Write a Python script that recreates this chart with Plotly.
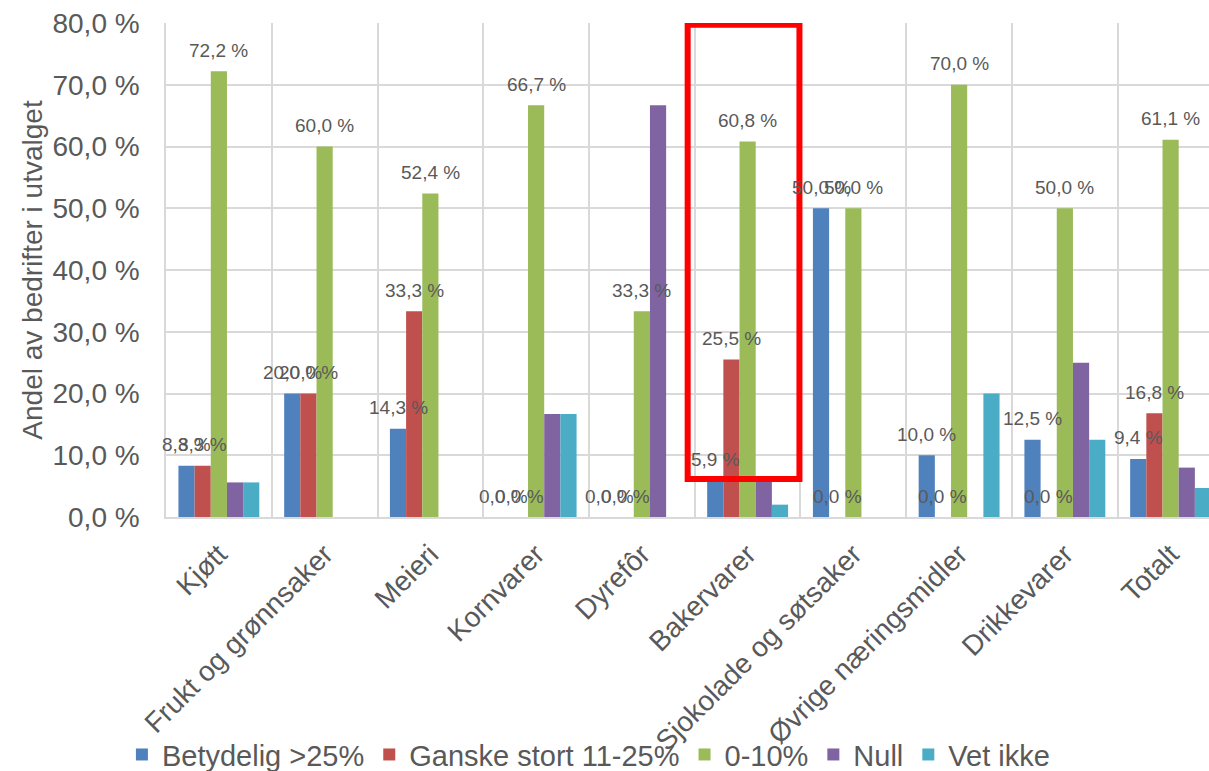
import plotly.graph_objects as go

# Product categories and share of companies per answer group (percent)
categories = ["Kjøtt", "Frukt og grønnsaker", "Meieri", "Kornvarer", "Dyrefôr",
              "Bakervarer", "Sjokolade og søtsaker", "Øvrige næringsmidler",
              "Drikkevarer", "Totalt"]

betydelig = [8.3, 20.0, 14.3, 0.0, 0.0, 5.9, 50.0, 10.0, 12.5, 9.4]
ganske_stort = [8.3, 20.0, 33.3, 0.0, 0.0, 25.5, 0.0, 0.0, 0.0, 16.8]
lav = [72.2, 60.0, 52.4, 66.7, 33.3, 60.8, 50.0, 70.0, 50.0, 61.1]
null = [5.6, 0.0, 0.0, 16.7, 66.7, 5.9, 0.0, 0.0, 25.0, 8.0]
vet_ikke = [5.6, 0.0, 0.0, 16.7, 0.0, 2.0, 0.0, 20.0, 12.5, 4.7]

series_names = ["Betydelig >25%", "Ganske stort 11-25%", "0-10%", "Null", "Vet ikke"]
series_values = [betydelig, ganske_stort, lav, null, vet_ikke]
series_colors = ["#4F81BD", "#C0504D", "#9BBB59", "#8064A2", "#4BACC6"]
labelled_series = 3  # value labels on the first three groups only

FONT = "Liberation Sans, Arial, sans-serif"
TEXT = "#595959"
GRID = "#D9D9D9"
BARGAP = 0.235
n_series = len(series_names)
bar_w = (1 - BARGAP) / n_series

fig = go.Figure()
for name, vals, col in zip(series_names, series_values, series_colors):
    fig.add_trace(go.Bar(x=categories, y=vals, name=name,
                         marker=dict(color=col, line=dict(width=0))))

def pct(v):
    return f"{v:.1f} %".replace(".", ",")

annotations = []
for k in range(labelled_series):
    for i, v in enumerate(series_values[k]):
        annotations.append(dict(
            x=i + (k - (n_series - 1) / 2) * bar_w, y=v, xref="x", yref="y",
            text=pct(v), showarrow=False, yanchor="middle", yshift=21,
            font=dict(family=FONT, size=19, color=TEXT)))

# Highlight frame around the bakery group
bi = categories.index("Bakervarer")
fig.add_shape(type="rect", xref="x", yref="y",
              x0=bi - 0.567, x1=bi + 0.49, y0=6.15, y1=79.7,
              line=dict(color="#FF0000", width=6), fillcolor="rgba(0,0,0,0)")

fig.update_layout(
    width=1209, height=771,
    margin=dict(l=166, r=0, t=23, b=254, autoexpand=False),
    paper_bgcolor="white", plot_bgcolor="white",
    barmode="group", bargap=BARGAP, bargroupgap=0,
    separators=", ",
    font=dict(family=FONT, color=TEXT),
    annotations=annotations,
    showlegend=True,
    legend=dict(orientation="h", x=0.405, xanchor="center", y=-0.481, yanchor="middle",
                font=dict(family=FONT, size=29, color=TEXT),
                itemwidth=30, traceorder="normal", bgcolor="rgba(0,0,0,0)"),
    xaxis=dict(type="category", range=[-0.5, 9.363], tickson="boundaries",
               showgrid=True, gridcolor=GRID, gridwidth=1.5,
               showline=True, linecolor=GRID, linewidth=1.5,
               ticks="", tickangle=-45, automargin=False,
               tickfont=dict(family=FONT, size=28, color=TEXT),
               ticklabelstandoff=8),
    yaxis=dict(range=[0, 80], dtick=10, tickformat=".1f", ticksuffix=" %",
               showgrid=True, gridcolor=GRID, gridwidth=1.5,
               showline=True, linecolor=GRID, linewidth=1.5, zeroline=False,
               ticks="", automargin=False, ticklabelstandoff=19,
               tickfont=dict(family=FONT, size=28, color=TEXT),
               title=dict(text="Andel av bedrifter i utvalget", standoff=2,
                          font=dict(family=FONT, size=28, color=TEXT))),
)

fig.write_html("out.html")
